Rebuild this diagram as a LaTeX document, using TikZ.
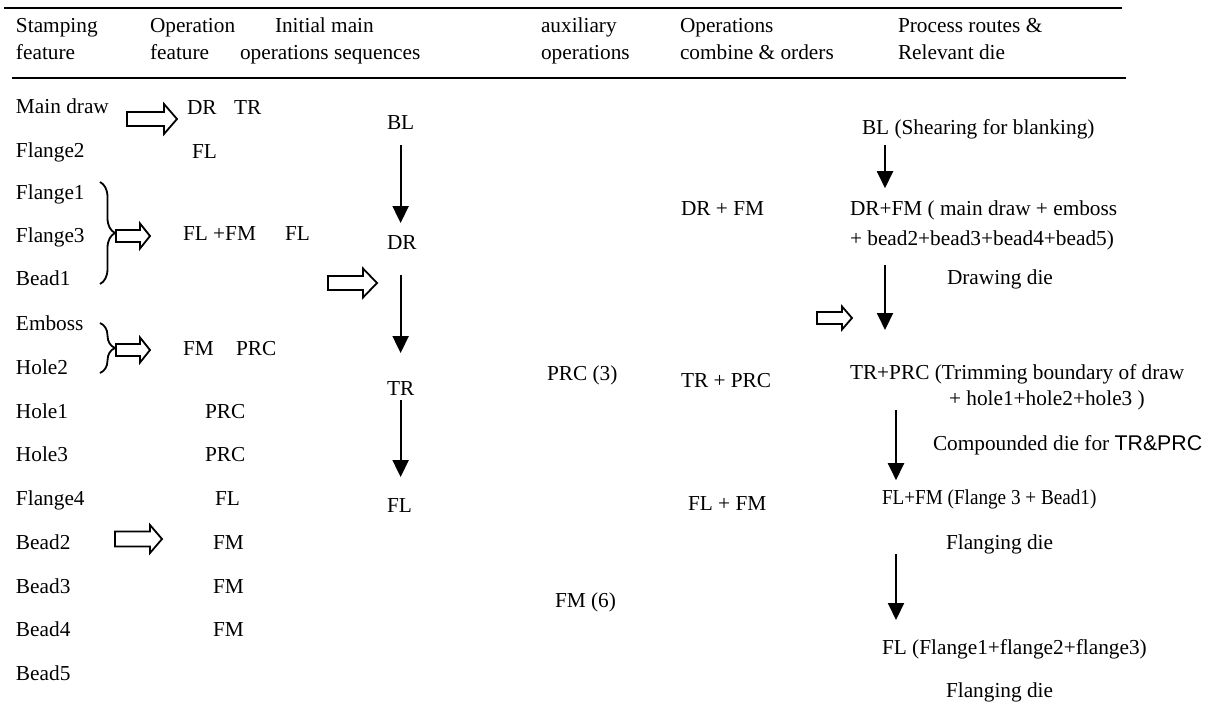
\documentclass[tikz,border=0pt]{standalone}
\usepackage{fontspec}
\setmainfont{Liberation Serif}
\newfontfamily\sansface{Liberation Sans}
\usetikzlibrary{arrows.meta,decorations.pathreplacing}
\begin{document}
\begin{tikzpicture}[x=1pt,y=-1pt,
  txt/.style={anchor=base west,inner sep=0pt,outer sep=0pt,font=\fontsize{21.3}{25}\selectfont},
  rulebar/.style={line width=2pt},
  flow/.style={line width=2pt,-{Triangle[length=17pt,width=16pt]}},
  curly/.style={line width=1.8pt,decorate,decoration={brace,amplitude=15pt}},
  pics/hollow/.style n args={4}{code={
    \draw[line width=1.8pt,line join=miter,fill=white]
      (0,-#2) -- ({#1-#4},-#2) -- ({#1-#4},-#3) -- (#1,0) -- ({#1-#4},#3) -- ({#1-#4},#2) -- (0,#2) -- cycle;}}]
\fill[white] (0,0) rectangle (1214,704);
\useasboundingbox (0,0) rectangle (1214,704);

% header rules
\draw[rulebar] (4,8) -- (1122,8);
\draw[rulebar] (12,78) -- (1126,78);

% column headings
\node[txt] (h1a) at (16,32) {Stamping};
\node[txt] (h1b) at (16,59) {feature};
\node[txt] (h2a) at (150,32) {Operation};
\node[txt] (h2b) at (150,59) {feature};
\node[txt] (h3a) at (275,32) {Initial main};
\node[txt] (h3b) at (240,59) {operations sequences};
\node[txt] (h4a) at (541,32) {auxiliary};
\node[txt] (h4b) at (541,59) {operations};
\node[txt] (h5a) at (680,32) {Operations};
\node[txt] (h5b) at (680,59) {combine \& orders};
\node[txt] (h6a) at (898,32) {Process routes \&};
\node[txt] (h6b) at (898,59) {Relevant die};

% stamping features
\node[txt] (sMain) at (16,113) {Main draw};
\node[txt] (sFl2) at (16,157) {Flange2};
\node[txt] (sFl1) at (16,199) {Flange1};
\node[txt] (sFl3) at (16,242) {Flange3};
\node[txt] (sBd1) at (16,285) {Bead1};
\node[txt] (sEmb) at (16,330) {Emboss};
\node[txt] (sHo2) at (16,374) {Hole2};
\node[txt] (sHo1) at (16,418) {Hole1};
\node[txt] (sHo3) at (16,461) {Hole3};
\node[txt] (sFl4) at (16,505) {Flange4};
\node[txt] (sBd2) at (16,549) {Bead2};
\node[txt] (sBd3) at (16,593) {Bead3};
\node[txt] (sBd4) at (16,636) {Bead4};
\node[txt] (sBd5) at (16,680) {Bead5};

% operation features
\node[txt] (oDR) at (187,114) {DR};
\node[txt] (oTR) at (234,114) {TR};
\node[txt] (oFLa) at (192,158) {FL};
\node[txt] (oFLFM) at (183,240) {FL +FM};
\node[txt] (oFLb) at (285,240) {FL};
\node[txt] (oFM) at (183,355) {FM};
\node[txt] (oPRCa) at (236,355) {PRC};
\node[txt] (oPRCb) at (205,418) {PRC};
\node[txt] (oPRCc) at (205,461) {PRC};
\node[txt] (oFLc) at (215,505) {FL};
\node[txt] (oFMa) at (213,549) {FM};
\node[txt] (oFMb) at (213,593) {FM};
\node[txt] (oFMc) at (213,636) {FM};

% braces grouping features
\coordinate (b1t) at (100,182);
\coordinate (b1b) at (100,284);
\coordinate (b2t) at (100,323);
\coordinate (b2b) at (100,373);
\draw[curly] (b1t) -- (b1b);
\draw[curly] (b2t) -- (b2b);

% hollow arrows
\pic (haMain) at (127,119) {hollow={50}{7}{15}{13}};
\pic (haB1) at (116,236) {hollow={34}{6}{12.5}{10}};
\pic (haB2) at (116,350) {hollow={34}{6}{12.5}{10}};
\pic (haMid) at (328,283) {hollow={49}{7}{14.5}{14}};
\pic (haBd2) at (115,539) {hollow={47}{7.5}{14}{12}};
\pic (haRight) at (817,318) {hollow={35}{6}{11.5}{10}};

% initial main sequence
\node[txt] (mBL) at (387,129) {BL};
\node[txt] (mDR) at (387,249) {DR};
\node[txt] (mTR) at (387,395) {TR};
\node[txt] (mFL) at (387,512) {FL};
\draw[flow,shorten <=16pt,shorten >=12pt] (mBL.south) -- (mBL.south |- mDR.north);
\draw[flow,shorten <=26pt,shorten >=28pt] (mBL.south |- mDR.south) -- (mBL.south |- mTR.north);
\draw[flow,shorten <=5pt,shorten >=21pt] (mBL.south |- mTR.south) -- (mBL.south |- mFL.north);

% auxiliary operations
\node[txt] (aPRC) at (547,380) {PRC (3)};
\node[txt] (aFM) at (555,607) {FM (6)};

% combined operations
\node[txt] (cDR) at (681,215) {DR + FM};
\node[txt] (cTR) at (681,387) {TR + PRC};
\node[txt] (cFL) at (688,510) {FL + FM};

% process routes and dies
\coordinate (ax1) at (885,0);
\coordinate (ax2) at (896,0);
\node[txt] (rBL) at (862,134) {BL (Shearing for blanking)};
\node[txt] (rDRa) at (850,215) {DR+FM ( main draw + emboss};
\node[txt] (rDRb) at (850,245) {+ bead2+bead3+bead4+bead5)};
\node[txt] (rDie1) at (947,284) {Drawing die};
\node[txt] (rTRa) at (850,379) {TR+PRC (Trimming boundary of draw};
\node[txt] (rTRb) at (949,405) {+ hole1+hole2+hole3 )};
\node[txt] (rDie2) at (933,450) {Compounded die for {\sansface TR\&PRC}};
\node[txt] (rFLFM) at (882,504) {\scalebox{0.9}[1]{FL+FM (Flange 3 + Bead1)}};
\node[txt] (rDie3) at (946,549) {Flanging die};
\node[txt] (rFL) at (882,654) {FL (Flange1+flange2+flange3)};
\node[txt] (rDie4) at (946,697) {Flanging die};

\draw[flow,shorten <=6pt,shorten >=12pt] (rBL.south -| ax1) -- (rDRa.north -| ax1);
\draw[flow,shorten <=15pt,shorten >=34pt] (rDRb.south -| ax1) -- (rTRa.north -| ax1);
\draw[flow,shorten >=9pt] (rTRb.south -| ax2) -- (rFLFM.north -| ax2);
\draw[flow,shorten >=19pt] (rDie3.south -| ax2) -- (rFL.north -| ax2);
\end{tikzpicture}
\end{document}
